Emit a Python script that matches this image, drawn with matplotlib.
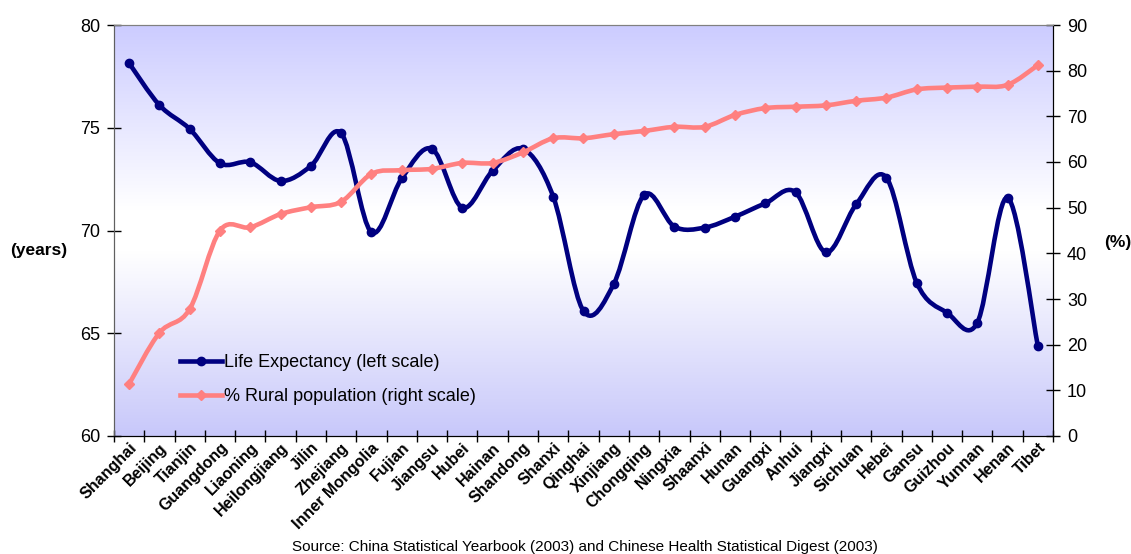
import numpy as np
import matplotlib.pyplot as plt
from matplotlib.path import Path
from matplotlib.patches import PathPatch
from matplotlib.lines import Line2D
from matplotlib.colors import LinearSegmentedColormap
from matplotlib.transforms import ScaledTranslation

plt.rcParams['font.family'] = ['Liberation Sans', 'DejaVu Sans']

provinces = ["Shanghai", "Beijing", "Tianjin", "Guangdong", "Liaoning", "Heilongjiang",
             "Jilin", "Zhejiang", "Inner Mongolia", "Fujian", "Jiangsu", "Hubei", "Hainan",
             "Shandong", "Shanxi", "Qinghai", "Xinjiang", "Chongqing", "Ningxia", "Shaanxi",
             "Hunan", "Guangxi", "Anhui", "Jiangxi", "Sichuan", "Hebei", "Gansu", "Guizhou",
             "Yunnan", "Henan", "Tibet"]

# life expectancy, years (left scale)
life_expectancy = [78.14, 76.10, 74.94, 73.27, 73.32, 72.41, 73.14, 74.73, 69.91, 72.54,
                   73.97, 71.11, 72.91, 73.97, 71.65, 66.08, 67.40, 71.73, 70.19, 70.14,
                   70.67, 71.32, 71.86, 68.94, 71.27, 72.57, 67.46, 66.00, 65.51, 71.60,
                   64.38]

# % rural population (right scale)
rural_pct = [11.4, 22.6, 27.8, 45.0, 45.7, 48.6, 50.1, 51.3, 57.4, 58.2,
             58.5, 59.8, 59.8, 62.1, 65.2, 65.2, 66.1, 66.8, 67.7, 67.7,
             70.3, 71.8, 72.1, 72.4, 73.4, 74.1, 75.9, 76.3, 76.5, 76.9,
             81.2]

source_note = "Source: China Statistical Yearbook (2003) and Chinese Health Statistical Digest (2003)"


def smooth_path(xs, ys):
    # Excel-style smoothed line: cubic Bezier segments through the points
    pts = np.column_stack([xs, ys]).astype(float)
    n = len(pts)
    verts = [pts[0]]
    codes = [Path.MOVETO]
    for i in range(n - 1):
        p0 = pts[max(i - 1, 0)]
        p1 = pts[i]
        p2 = pts[i + 1]
        p3 = pts[min(i + 2, n - 1)]
        verts += [p1 + (p2 - p0) / 6, p2 - (p3 - p1) / 6, p2]
        codes += [Path.CURVE4] * 3
    return Path(verts, codes)


navy = "#000080"
pink = "#FF8080"
x = np.arange(len(provinces))

fig = plt.figure(figsize=(11.31, 5.54), dpi=100)
ax = fig.add_axes([114 / 1131, 1 - 436 / 554, 939 / 1131, 411 / 554])
ax2 = ax.twinx()

# gradient background
cmap = LinearSegmentedColormap.from_list(
    "bg", [(0, "#C8C8FA"), (0.45, "#FFFFFF"), (0.55, "#FFFFFF"), (1, "#CCCCFF")])
grad = np.linspace(0, 1, 256).reshape(-1, 1)
ax.imshow(grad, cmap=cmap, origin="lower", extent=[0, 1, 0, 1], transform=ax.transAxes,
          aspect="auto", zorder=0)

ax.add_patch(PathPatch(smooth_path(x, life_expectancy), facecolor="none", edgecolor=navy,
                       lw=3.3, capstyle="round", joinstyle="round", zorder=3))
ax.plot(x, life_expectancy, ls="none", marker="o", ms=6, color=navy, zorder=4)

ax2.add_patch(PathPatch(smooth_path(x, rural_pct), facecolor="none", edgecolor=pink,
                        lw=3.3, capstyle="round", joinstyle="round", zorder=3))
ax2.plot(x, rural_pct, ls="none", marker="D", ms=5.5, color=pink, zorder=4)

ax.set_xlim(-0.5, len(provinces) - 0.5)
ax.set_ylim(60, 80)
ax2.set_ylim(0, 90)
ax.set_yticks([60, 65, 70, 75, 80])
ax2.set_yticks(range(0, 91, 10))

ax.set_xticks(np.arange(len(provinces) + 1) - 0.5)
ax.set_xticklabels([])
ax.set_xticks(x, minor=True)
ax.set_xticklabels(provinces, minor=True, rotation=45, ha="right", va="top",
                   rotation_mode="anchor", fontsize=11.5, fontweight="bold")
shift = ScaledTranslation(-8 / 72, 0, fig.dpi_scale_trans)
for lab in ax.get_xticklabels(minor=True):
    lab.set_transform(lab.get_transform() + shift)
ax.tick_params(axis="x", which="minor", length=0, pad=3)
ax.tick_params(axis="x", which="major", direction="inout", length=9, width=1)
ax.tick_params(axis="y", direction="inout", length=10, width=1, labelsize=13, pad=5)
ax2.tick_params(axis="y", direction="inout", length=10, width=1, labelsize=13, pad=5)

for a in (ax, ax2):
    a.spines["top"].set_color("#808080")
    a.spines["left"].set_color("#606060")
    a.spines["right"].set_color("black")
    a.spines["bottom"].set_color("black")

fig.text(10 / 1131, 1 - 250 / 554, "(years)", fontsize=12.5, fontweight="bold",
         ha="left", va="center")
fig.text(1104 / 1131, 1 - 243 / 554, "(%)", fontsize=12.5, fontweight="bold",
         ha="left", va="center")
fig.text(585 / 1131, 1 - 547 / 554, source_note, fontsize=11, ha="center", va="center")

handles = [Line2D([], [], color=navy, lw=3.3, marker="o", ms=6),
           Line2D([], [], color=pink, lw=3.3, marker="D", ms=5.5)]
ax2.legend(handles, ["Life Expectancy (left scale)", "% Rural population (right scale)"],
           loc="center left", bbox_to_anchor=(0.061, 0.137), frameon=False, fontsize=13,
           handlelength=2.3, handletextpad=0.1, labelspacing=0.95, borderpad=0)

fig.savefig("out.png", dpi=100)
